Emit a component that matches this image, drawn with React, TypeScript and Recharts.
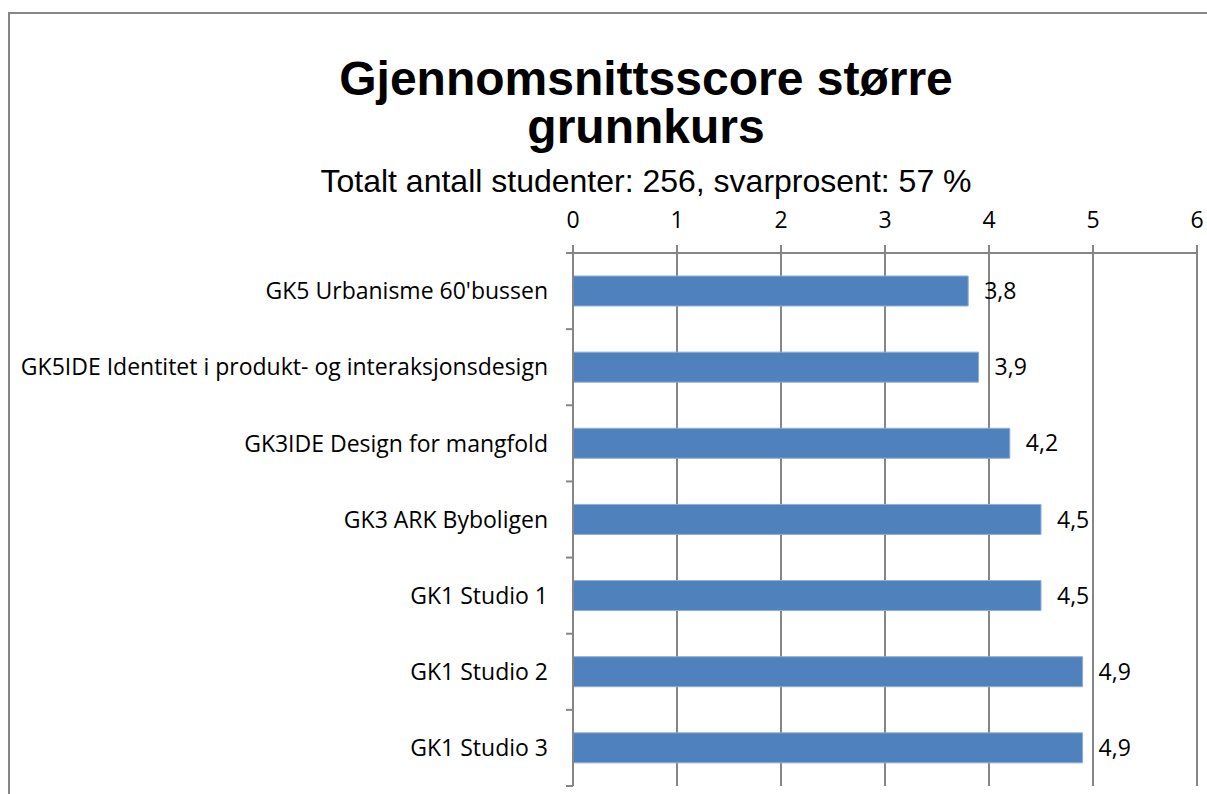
import { Bar, BarChart, CartesianGrid, LabelList, XAxis, YAxis } from "recharts";

const categories = [
  "GK5 Urbanisme 60'bussen",
  "GK5IDE Identitet i produkt- og interaksjonsdesign",
  "GK3IDE Design for mangfold",
  "GK3 ARK Byboligen",
  "GK1 Studio 1",
  "GK1 Studio 2",
  "GK1 Studio 3",
];
const scores = [3.8, 3.9, 4.2, 4.5, 4.5, 4.9, 4.9];
const valueTicks = [0, 1, 2, 3, 4, 5, 6];

const titleLines = ["Gjennomsnittsscore større", "grunnkurs"];
const subtitle = "Totalt antall studenter: 256, svarprosent: 57 %";

const GRAY = "#868686";
const BAR = "#4F81BD";
const AXIS_FONT = "'Open Sans', sans-serif";
const FONT_SIZE = 23;

const CHART_W = 1207;
const CHART_H = 794;
const MARGIN = { top: 203, right: 10, bottom: 8, left: 8 };
const X_AXIS_H = 50;
const Y_AXIS_W = 565;
const TICK_GAP = 25; // label end -> axis line
const EDGE_TICK = 7; // Excel draws the category ticks between bands

const data = categories.map((name, i) => ({ name, score: scores[i] }));

const formatComma = (v: unknown) => String(v).replace(".", ",");

// band height, from the plot area the chart lays out
const plotH = CHART_H - MARGIN.top - X_AXIS_H - MARGIN.bottom;
const band = plotH / categories.length;

function CategoryTick(props: any) {
  const { x, y, payload, index } = props;
  const axisX = x + TICK_GAP;
  return (
    <g>
      <line
        x1={axisX - EDGE_TICK}
        x2={axisX}
        y1={y - band / 2}
        y2={y - band / 2}
        stroke={GRAY}
        strokeWidth={2}
      />
      {index === categories.length - 1 && (
        <line
          x1={axisX - EDGE_TICK}
          x2={axisX}
          y1={y + band / 2}
          y2={y + band / 2}
          stroke={GRAY}
          strokeWidth={2}
        />
      )}
      <text
        x={x}
        y={y}
        dy="0.355em"
        textAnchor="end"
        fill="#000"
        fontSize={FONT_SIZE}
        fontFamily={AXIS_FONT}
      >
        {payload.value}
      </text>
    </g>
  );
}

export default function App() {
  return (
    <div
      style={{
        position: "fixed",
        left: 0,
        top: 0,
        width: CHART_W,
        height: CHART_H,
        overflow: "hidden",
        background: "#fff",
      }}
    >
      <div
        style={{
          position: "absolute",
          left: 8,
          top: 12,
          width: 1400,
          height: 1000,
          borderTop: `2.5px solid ${GRAY}`,
          borderLeft: `2.5px solid ${GRAY}`,
        }}
      />
      <svg width={CHART_W} height={220} style={{ position: "absolute", left: 0, top: 0 }}>
        {titleLines.map((line, i) => (
          <text
            key={line}
            x={646}
            y={95 + i * 48}
            textAnchor="middle"
            fontFamily="'Liberation Sans', Arial, sans-serif"
            fontWeight="bold"
            fontSize={48}
            fill="#000"
          >
            {line}
          </text>
        ))}
        <text
          x={646}
          y={192}
          textAnchor="middle"
          fontFamily="'Liberation Sans', Arial, sans-serif"
          fontSize={32}
          fill="#000"
        >
          {subtitle}
        </text>
      </svg>
      <div style={{ position: "absolute", left: 0, top: 0 }}>
        <BarChart width={CHART_W} height={CHART_H} data={data} layout="vertical" margin={MARGIN}>
          <CartesianGrid vertical horizontal={false} stroke={GRAY} strokeWidth={2} />
          <XAxis
            type="number"
            orientation="top"
            domain={[0, 6]}
            ticks={valueTicks}
            height={X_AXIS_H}
            stroke={GRAY}
            strokeWidth={2}
            tickSize={8}
            tickMargin={17}
            tick={{ fill: "#000", fontSize: FONT_SIZE, fontFamily: AXIS_FONT }}
          />
          <YAxis
            type="category"
            dataKey="name"
            width={Y_AXIS_W}
            stroke={GRAY}
            strokeWidth={2}
            tickLine={false}
            tickSize={0}
            tickMargin={TICK_GAP}
            interval={0}
            tick={<CategoryTick />}
          />
          <Bar
            dataKey="score"
            fill={BAR}
            stroke="#8FADD6"
            strokeWidth={1}
            barSize={30}
            isAnimationActive={false}
          >
            <LabelList
              dataKey="score"
              position="right"
              offset={16}
              formatter={formatComma}
              style={{ fill: "#000", fontSize: FONT_SIZE, fontFamily: AXIS_FONT }}
            />
          </Bar>
        </BarChart>
      </div>
    </div>
  );
}
